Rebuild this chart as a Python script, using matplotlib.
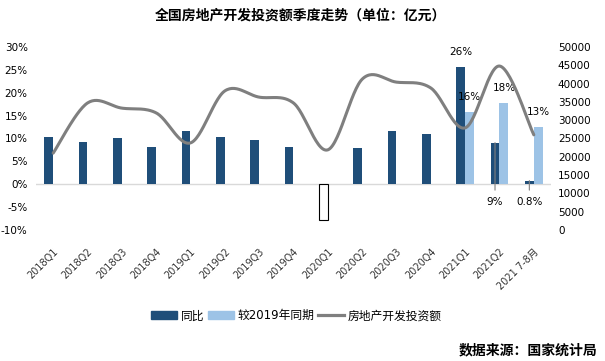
import numpy as np
import matplotlib.pyplot as plt
from matplotlib.patches import Patch
from matplotlib.lines import Line2D

plt.rcParams['font.family'] = ['DejaVu Sans', 'Noto Sans CJK SC']

# data
categories = ["2018Q1", "2018Q2", "2018Q3", "2018Q4", "2019Q1", "2019Q2", "2019Q3",
              "2019Q4", "2020Q1", "2020Q2", "2020Q3", "2020Q4", "2021Q1", "2021Q2",
              "2021 7-8月"]
yoy = [10.4, 9.2, 10.1, 8.1, 11.6, 10.3, 9.6, 8.1, -7.9, 7.9, 11.6, 10.9, 25.6, 9.1, 0.8]
vs2019_idx = [12, 13, 14]
vs2019 = [15.8, 17.8, 12.5]
invest = [21000, 34700, 33300, 32000, 23800, 38000, 36300, 34700,
          21900, 41200, 40400, 38800, 27900, 44800, 26000]
labels_top = {(0, 12): "26%", (1, 12): "16%", (1, 13): "18%", (1, 14): "13%"}
labels_low = {13: "9%", 14: "0.8%"}

DARK = "#1F4E79"
LIGHT = "#9DC3E6"
GRAY = "#7F7F7F"


def smooth(y, n=30):
    # bezier smoothing similar to excel's smoothed line
    y = np.asarray(y, float)
    x = np.arange(len(y), dtype=float)
    px = np.concatenate([[x[0]], x, [x[-1]]])
    py = np.concatenate([[y[0]], y, [y[-1]]])
    xs, ys = [], []
    t = np.linspace(0, 1, n)
    for i in range(1, len(px) - 2):
        p0 = np.array([px[i], py[i]])
        p3 = np.array([px[i + 1], py[i + 1]])
        c1 = p0 + (np.array([px[i + 1], py[i + 1]]) - np.array([px[i - 1], py[i - 1]])) / 6
        c2 = p3 - (np.array([px[i + 2], py[i + 2]]) - np.array([px[i], py[i]])) / 6
        b = ((1 - t) ** 3)[:, None] * p0 + (3 * (1 - t) ** 2 * t)[:, None] * c1 \
            + (3 * (1 - t) * t ** 2)[:, None] * c2 + (t ** 3)[:, None] * p3
        xs.append(b[:, 0])
        ys.append(b[:, 1])
    return np.concatenate(xs), np.concatenate(ys)


fig = plt.figure(figsize=(6.05, 3.61), dpi=100)
ax = fig.add_axes([0.0595, 0.3629, 0.8512, 0.5069])
ax2 = ax.twinx()

x = np.arange(len(categories))
w = 0.26
for i, v in enumerate(yoy):
    if v < 0:
        ax.bar(x[i] - w / 2, v, w, color="white", edgecolor="black", linewidth=0.8)
    else:
        ax.bar(x[i] - w / 2, v, w, color=DARK)
ax.bar(np.array(vs2019_idx) + w / 2, vs2019, w, color=LIGHT)
ax.axhline(0, color="#D9D9D9", lw=1, zorder=0)

for (s, i), txt in labels_top.items():
    val = yoy[i] if s == 0 else vs2019[vs2019_idx.index(i)]
    xi = x[i] - w / 2 if s == 0 else x[i] + w / 2
    ax.annotate(txt, (xi, val), xytext=(0, 11), textcoords="offset points",
                ha="center", va="center", fontsize=7.5)
for i, txt in labels_low.items():
    ax.annotate(txt, (x[i] - w / 2, yoy[i]), xytext=(x[i] - w / 2, -3.9),
                ha="center", va="center", fontsize=7.5,
                arrowprops=dict(arrowstyle="-", color=GRAY, lw=0.8, shrinkA=3, shrinkB=0))

sx, sy = smooth(invest)
ax2.plot(sx, sy, color=GRAY, lw=2.2, solid_capstyle="round")

ax.set_xlim(-0.5, len(categories) - 0.5)
ax.set_ylim(-10, 30)
ax.set_yticks(range(-10, 31, 5))
ax.set_yticklabels([f"{v}%" for v in range(-10, 31, 5)])
ax2.set_ylim(0, 50000)
ax2.set_yticks(range(0, 50001, 5000))
ax.set_xticks(x)
ax.set_xticklabels(categories, rotation=45, ha="right", rotation_mode="anchor")

for a in (ax, ax2):
    for sp in a.spines.values():
        sp.set_visible(False)
ax.tick_params(axis="y", length=0, labelsize=7.5, pad=6)
ax.tick_params(axis="x", length=0, labelsize=7, pad=12, labelcolor="#333333")
ax2.tick_params(axis="y", length=0, labelsize=7.5, pad=5)

fig.text(0.496, 0.958, "全国房地产开发投资额季度走势（单位：亿元）", ha="center", va="center",
         fontsize=10, fontweight="bold")
fig.text(0.988, 0.03, "数据来源：国家统计局", ha="right", va="center",
         fontsize=10, fontweight="bold")

handles = [Patch(color=DARK), Patch(color=LIGHT), Line2D([0], [0], color=GRAY, lw=2.3)]
fig.legend(handles, ["同比", "较2019年同期", "房地产开发投资额"], loc="center",
           bbox_to_anchor=(0.49, 0.125), ncol=3, frameon=False, fontsize=8.5,
           handlelength=2.2, handleheight=0.6, handletextpad=0.3, columnspacing=0.3)

fig.savefig("out.png", dpi=100)
